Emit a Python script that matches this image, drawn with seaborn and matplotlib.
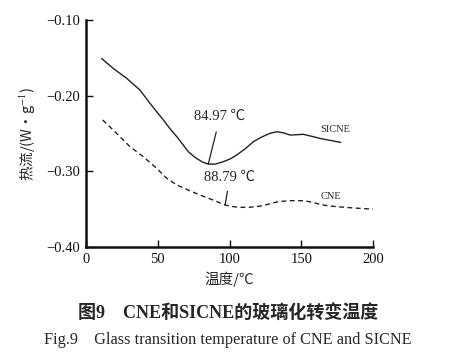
import matplotlib
matplotlib.use("Agg")
import matplotlib.pyplot as plt
import seaborn as sns
import pandas as pd

# ---- data ----
sicne_x = [10.9, 19, 28.4, 37.6, 44.6, 49.0, 53.9, 58.5, 63.2, 67.5, 71.3, 75.0, 78, 81.5, 85.2, 90.0, 95.7,
           100.5, 105, 111.0, 116.6, 122.5, 128.2, 133, 137.5, 142.2, 147.0, 151.4, 157.0, 163, 170.0, 177.5]
sicne_y = [-0.1507, -0.1639, -0.177, -0.1925, -0.210, -0.2205, -0.232, -0.2435, -0.254, -0.2645, -0.274,
           -0.2800, -0.284, -0.2880, -0.2903, -0.2905, -0.2872, -0.2835, -0.2784, -0.2700, -0.2608,
           -0.2545, -0.2497, -0.2476, -0.2490, -0.2520, -0.2515, -0.2510, -0.2535, -0.2564, -0.2590, -0.2617]
cne_x = [11.6, 21.4, 30.7, 39.9, 49.2, 56.2, 63.2, 71.3, 79.4, 88.7, 96.9, 102.0, 107.3, 114.0, 121.3, 128.0,
         134, 142.2, 151.4, 157.0, 163, 168.5, 174.7, 187.0, 200]
cne_y = [-0.232, -0.2498, -0.2674, -0.2806, -0.296, -0.309, -0.318, -0.3247, -0.3313, -0.338, -0.3445,
         -0.3465, -0.3476, -0.3475, -0.346, -0.3430, -0.340, -0.3388, -0.3388, -0.3405, -0.3436, -0.3455,
         -0.3467, -0.3485, -0.350]
series_names = ["SICNE", "CNE"]
tg_labels = ["84.97 ℃", "88.79 ℃"]
tg_points = [(85.2, -0.2903), (96.9, -0.3445)]
x_ticks = [0, 50, 100, 150, 200]
y_ticks = [-0.40, -0.30, -0.20, -0.10]

df = pd.concat([
    pd.DataFrame({"T": sicne_x, "HF": sicne_y, "sample": series_names[0]}),
    pd.DataFrame({"T": cne_x, "HF": cne_y, "sample": series_names[1]}),
])

sns.set_theme(style="ticks")
plt.rcParams["font.family"] = ["Liberation Serif", "Noto Sans CJK SC"]
plt.rcParams["mathtext.fontset"] = "stix"
plt.rcParams["axes.unicode_minus"] = True

fig = plt.figure(figsize=(4.56, 3.6), dpi=100)
ax = fig.add_axes([0.1886, 0.314, 0.6294, 0.630])

sns.lineplot(data=df, x="T", y="HF", hue="sample", style="sample",
             palette={"SICNE": "#222222", "CNE": "#222222"},
             dashes={"SICNE": "", "CNE": (3.5, 2.5)},
             linewidth=1.0, sort=False, legend=False, ax=ax)

ax.set_xlim(0, 200)
ax.set_ylim(-0.40, -0.10)
ax.set_xticks(x_ticks)
ax.set_yticks(y_ticks)
ax.set_xticklabels([str(v) for v in x_ticks])
ax.set_yticklabels([f"{v:.2f}".replace("-", "\u2212") for v in y_ticks])
for s in ["top", "right"]:
    ax.spines[s].set_visible(False)
for s in ["left", "bottom"]:
    ax.spines[s].set_linewidth(1.8)
    ax.spines[s].set_color("#111111")
ax.tick_params(direction="in", length=5, width=1.0, labelsize=10.5, colors="#111111", pad=4)

ax.set_xlabel("温度/℃", fontsize=10.5, labelpad=4, family=["Noto Sans CJK SC"])
ax.set_ylabel("热流/(W·g$^{-1}$)", fontsize=10.5, labelpad=6,
              family=["Noto Sans CJK SC", "Liberation Serif"])

# annotations
ax.annotate(tg_labels[0], xy=tg_points[0], xytext=(93.4, -0.2278),
            ha="center", va="center", fontsize=10.5,
            arrowprops=dict(arrowstyle="-", lw=0.9, color="#222222", shrinkA=4, shrinkB=0))
ax.annotate(tg_labels[1], xy=tg_points[1], xytext=(100.3, -0.3079),
            ha="center", va="center", fontsize=10.5,
            arrowprops=dict(arrowstyle="-", lw=0.9, color="#222222", shrinkA=3, shrinkB=0))
ax.text(173.9, -0.2445, series_names[0], ha="center", va="center", fontsize=7.5)
ax.text(170.6, -0.3326, series_names[1], ha="center", va="center", fontsize=7.5)

fig.text(0.5, 0.13, "图9　CNE和SICNE的玻璃化转变温度", ha="center", va="center",
         fontsize=13, fontweight="bold", family=["Liberation Serif", "Noto Sans CJK SC"])
fig.text(0.5, 0.055, "Fig.9　Glass transition temperature of CNE and SICNE", ha="center", va="center",
         fontsize=11.7, family=["Liberation Serif", "Noto Sans CJK SC"])

fig.savefig("out.png", dpi=100)
